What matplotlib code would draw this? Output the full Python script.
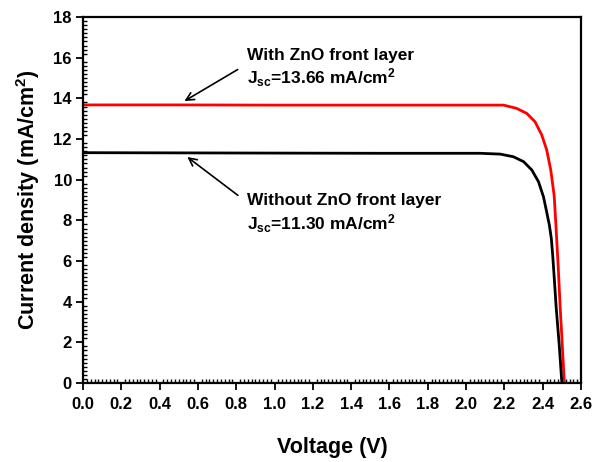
import matplotlib
matplotlib.use("Agg")
import matplotlib.pyplot as plt
from matplotlib.ticker import MultipleLocator

plt.rcParams['font.family'] = ['Liberation Sans', 'DejaVu Sans']
plt.rcParams['font.weight'] = 'bold'
plt.rcParams['mathtext.fontset'] = 'custom'
plt.rcParams['mathtext.rm'] = 'Liberation Sans:bold'
plt.rcParams['mathtext.bf'] = 'Liberation Sans:bold'
plt.rcParams['mathtext.default'] = 'bf'

# Data
v_with = [0.0, 0.5, 1.0, 1.5, 2.0, 2.195, 2.264, 2.317, 2.36, 2.395, 2.421, 2.442,
          2.46, 2.47, 2.481, 2.491, 2.502, 2.513]
j_with = [13.68, 13.68, 13.67, 13.67, 13.67, 13.67, 13.51, 13.26, 12.85, 12.2, 11.46, 10.48,
          9.2, 7.6, 5.7, 3.76, 1.9, 0.0]

v_without = [0.0, 0.5, 1.0, 1.55, 2.073, 2.178, 2.247, 2.30, 2.343, 2.378, 2.404, 2.421,
             2.435, 2.445, 2.452, 2.46, 2.47, 2.486, 2.50]
j_without = [11.33, 11.32, 11.31, 11.30, 11.30, 11.26, 11.13, 10.89, 10.48, 9.9, 9.16, 8.40,
             7.75, 7.1, 6.3, 5.2, 3.76, 1.9, 0.0]

x_ticks = [0.0, 0.2, 0.4, 0.6, 0.8, 1.0, 1.2, 1.4, 1.6, 1.8, 2.0, 2.2, 2.4, 2.6]
y_ticks = [0, 2, 4, 6, 8, 10, 12, 14, 16, 18]

fig = plt.figure(figsize=(5.93, 4.62), dpi=100)
ax = fig.add_axes([0.140, 0.171, 0.8398, 0.792])

ax.plot(v_with, j_with, color='#ff0000', lw=2.0)
ax.plot(v_without, j_without, color='black', lw=2.0)

ax.set_xlim(0, 2.6)
ax.set_ylim(0, 18)
ax.set_xticks(x_ticks)
ax.set_xticklabels([f"{t:.1f}" for t in x_ticks])
ax.set_yticks(y_ticks)
ax.xaxis.set_minor_locator(MultipleLocator(0.02))
ax.yaxis.set_minor_locator(MultipleLocator(0.2))
ax.tick_params(which='major', direction='out', length=5, width=1.3, labelsize=12, pad=3)
ax.tick_params(axis='x', which='major', pad=5)
ax.tick_params(which='minor', direction='in', length=3, width=1.0)
for s in ax.spines.values():
    s.set_linewidth(1.6)

ax.set_xlabel('Voltage (V)', fontsize=15.5, fontweight='bold', labelpad=18)
ax.set_ylabel('Current density (mA/cm$^{2}$)', fontsize=15.5, fontweight='bold', labelpad=8)

fs = 12.5
ax.text(0.856, 16.13, 'With ZnO front layer', fontsize=fs, fontweight='bold', va='center', ha='left')
ax.text(0.856, 15.0, r'J$_{sc}$=13.66 mA/cm$^{2}$', fontsize=fs, fontweight='bold', va='center', ha='left')
ax.text(0.856, 9.0, 'Without ZnO front layer', fontsize=fs, fontweight='bold', va='center', ha='left')
ax.text(0.856, 7.82, r'J$_{sc}$=11.30 mA/cm$^{2}$', fontsize=fs, fontweight='bold', va='center', ha='left')

ax.annotate('', xy=(0.517, 13.8), xytext=(0.82, 15.49),
            arrowprops=dict(arrowstyle='->', color='black', lw=1.2, mutation_scale=14))
ax.annotate('', xy=(0.533, 11.2), xytext=(0.82, 9.15),
            arrowprops=dict(arrowstyle='->', color='black', lw=1.2, mutation_scale=14))

fig.savefig('out.png', dpi=100)
